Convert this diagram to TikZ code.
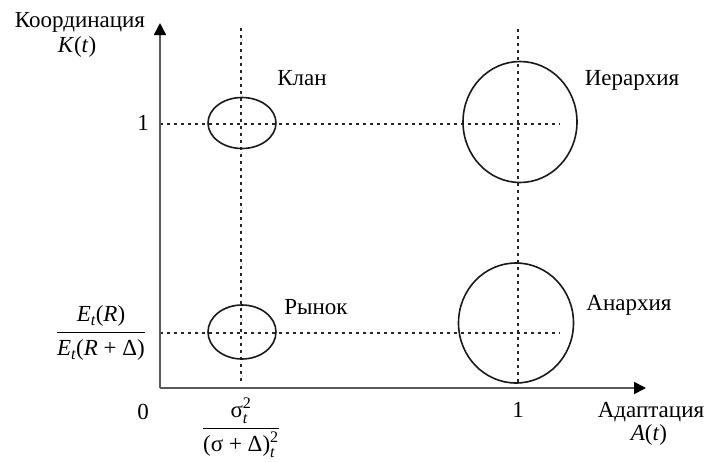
\documentclass[tikz,border=0pt]{standalone}
\usepackage{amsmath}
\usepackage{fontspec}
\setmainfont{Liberation Serif}
\usetikzlibrary{arrows.meta,shapes.geometric}
\newcommand\ti[1]{\textit{#1}}
\newcommand\tu[1]{\textnormal{#1}}
\begin{document}
\begin{tikzpicture}[x=1pt,y=-1pt,
  axis/.style={draw=black!65, line width=1.8pt, -{Triangle[length=12pt,width=12pt,color=black]}},
  guide/.style={draw=black!85, line width=1.4pt, dash pattern=on 3pt off 4pt},
  blob/.style={draw=black!90, line width=1.6pt, ellipse, inner sep=0pt},
  lbl/.style={font=\fontsize{23}{26}\selectfont, inner sep=0pt},
]
\useasboundingbox (0,0) rectangle (707,461);
% coordinates
\coordinate (o) at (160,388);
\coordinate (ytip) at (160,23);
\coordinate (xtip) at (646,388);
\coordinate (v1t) at (241,28);
\coordinate (v1b) at (241,383);
\coordinate (v2t) at (518,29);
\coordinate (v2b) at (518,383);
\coordinate (h1l) at (160,124);
\coordinate (h1r) at (560,124);
\coordinate (h2l) at (160,333);
\coordinate (h2r) at (560,333);
% guides
\draw[guide] (v1t) -- (v1b);
\draw[guide] (v2t) -- (v2b);
\draw[guide] (h1l) -- (h1r);
\draw[guide] (h2l) -- (h2r);
% axes
\draw[axis] (o) -- (ytip);
\draw[axis] (o) -- (xtip);
% ellipses
\node[blob, minimum width=68pt, minimum height=51pt] (clan) at (242,123) {};
\node[blob, minimum width=68pt, minimum height=54pt] (market) at (242,332) {};
\node[blob, minimum width=114pt, minimum height=121pt] (hier) at (520,122) {};
\node[blob, minimum width=115pt, minimum height=120pt] (anar) at (516,323) {};
% labels
\node[lbl] (tclan) at (302,78) {Клан};
\node[lbl] (tmarket) at (316,307) {Рынок};
\node[lbl] (thier) at (632,80) {Иерархия};
\node[lbl] (tanar) at (629,305) {Анархия};
\node[lbl] (ky) at (80,22) {Координация};
\node[lbl] (kt) at (77,47) {\ti{K}(\ti{t})};
\node[lbl] (ax) at (651,412) {Адаптация};
\node[lbl] (at) at (649,435) {\ti{A}(\ti{t})};
\node[lbl] (zero) at (143,412) {0};
\node[lbl] (oney) at (143,123) {1};
\node[lbl] (onex) at (518,410) {1};
\node[lbl] (fy) at (101,333) {$\dfrac{\ti{E}_{\ti{t}}\tu{(}\ti{R}\tu{)}}{\ti{E}_{\ti{t}}\tu{(}\ti{R}\tu{ + Δ)}}$};
\node[lbl] (fx) at (241,428) {$\dfrac{\tu{σ}_{\ti{t}}^{\tu{2}}}{\tu{(σ + Δ)}_{\ti{t}}^{\tu{2}}}$};
\end{tikzpicture}
\end{document}
